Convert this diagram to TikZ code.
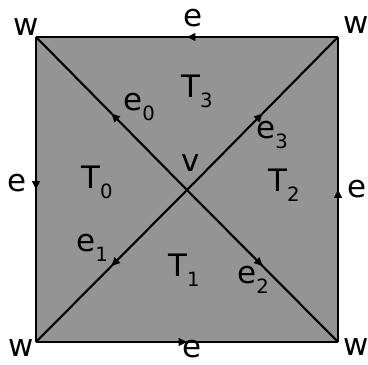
\documentclass[tikz,border=0pt]{standalone}
\usepackage{fontspec}
\setmainfont{DejaVu Sans}
\usetikzlibrary{arrows.meta, decorations.markings}
\newcommand{\lsub}[1]{\raisebox{-0.6ex}{\fontsize{14}{14}\selectfont #1}}

\begin{document}
\begin{tikzpicture}[x=0.025cm, y=-0.025cm,
  lbl/.style={inner sep=0pt, font=\fontsize{22}{24}\selectfont},
  arc/.style={line width=#1, postaction={decorate},
              decoration={markings, mark=at position 0.5 with
                {\arrow{Triangle[length=6pt, width=5.5pt]}}}},
  arc/.default=1.5pt,
]
  \useasboundingbox (0,0) rectangle (368,365);

  % corners and centre
  \coordinate (c0) at (36,37);
  \coordinate (c1) at (338,37);
  \coordinate (c2) at (338,342);
  \coordinate (c3) at (36,342);
  \coordinate (v) at (187,190);

  \fill[black!42] (c0) rectangle (c2);

  % boundary, counterclockwise
  \draw[arc=1.9pt] (c3) -- (c2);
  \draw[arc=1.9pt] (c2) -- (c1);
  \draw[arc=1.9pt] (c1) -- (c0);
  \draw[arc=1.9pt] (c0) -- (c3);

  % diagonals from v
  \draw[arc] (v) -- (c0);
  \draw[arc] (v) -- (c1);
  \draw[arc] (v) -- (c2);
  \draw[arc] (v) -- (c3);

  % vertex labels
  \node[lbl] (w0) at (26,27) {w};
  \node[lbl] (w1) at (356,25) {w};
  \node[lbl] (w2) at (356,347) {w};
  \node[lbl] (w3) at (21,348) {w};
  \node[lbl] (eT) at (193,18) {e};
  \node[lbl] (eL) at (17,183) {e};
  \node[lbl] (eR) at (357,189) {e};
  \node[lbl] (eB) at (192,349) {e};
  \node[lbl] (vl) at (191,163) {v};

  % triangles
  \node[lbl] (T0) at (97,182) {T\lsub{0}};
  \node[lbl] (T1) at (184,270) {T\lsub{1}};
  \node[lbl] (T2) at (284,185) {T\lsub{2}};
  \node[lbl] (T3) at (197,91) {T\lsub{3}};

  % edge labels
  \node[lbl] (e0) at (139,107) {e\lsub{0}};
  \node[lbl] (e1) at (92,248) {e\lsub{1}};
  \node[lbl] (e2) at (253,280) {e\lsub{2}};
  \node[lbl] (e3) at (272,135) {e\lsub{3}};
\end{tikzpicture}
\end{document}
